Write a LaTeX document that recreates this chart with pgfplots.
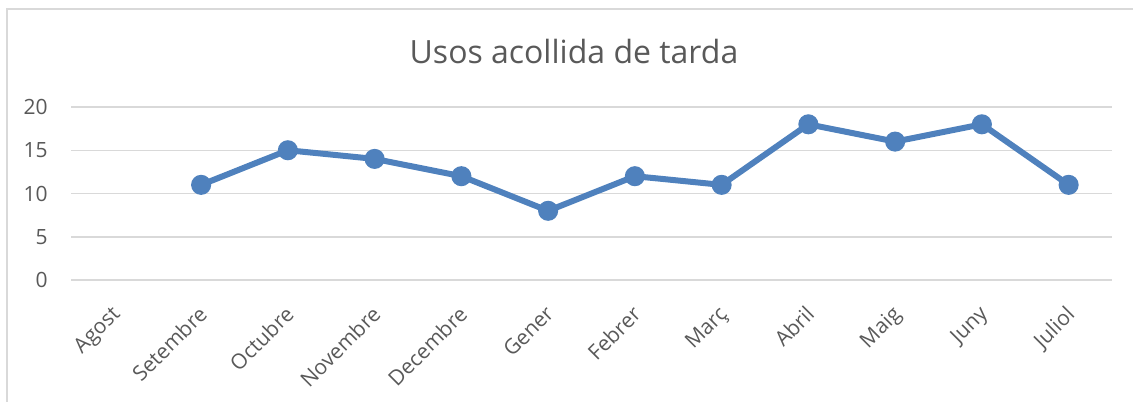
\documentclass[border=0pt]{standalone}
\usepackage{fontspec}
\setmainfont{Open Sans}
\usepackage{pgfplots}
\pgfplotsset{compat=1.18}
\definecolor{txt}{HTML}{595959}
\definecolor{grd}{HTML}{D9D9D9}
\definecolor{ser}{HTML}{4F81BD}
\begin{document}
\begin{tikzpicture}
\useasboundingbox (0,0) rectangle (566.5pt,-200.5pt);
\draw[grd, line width=0.75pt] (3.5pt,-4.5pt) rectangle (575pt,-215pt);
\node[txt, font=\fontsize{16}{19}\selectfont] at (287pt,-26pt) {Usos acollida de tarda};
\begin{axis}[
  at={(35.5pt,-140pt)}, anchor=south west,
  scale only axis, width=520.5pt, height=86.5pt,
  xmin=-0.5, xmax=11.5, ymin=0, ymax=20,
  xtick={0,...,11},
  xticklabels={Agost,Setembre,Octubre,Novembre,Decembre,Gener,Febrer,Març,Abril,Maig,Juny,Juliol},
  ytick={0,5,10,15,20},
  axis line style={draw=none},
  major tick length=0pt,
  ymajorgrids, grid style={grd, line width=0.75pt},
  tick label style={txt, font=\fontsize{10.5}{12}\selectfont},
  /pgf/number format/assume math mode=true,
  xticklabel style={xshift=-2pt, yshift=-12pt, rotate=45, anchor=north east, inner sep=0pt},
  yticklabel style={anchor=east, inner sep=0pt, xshift=-11.5pt},
  clip=false,
]
\addplot[ser, line width=3pt, mark=*, mark size=3.5pt, mark options={fill=ser, draw=ser}] coordinates {
 (1,11) (2,15) (3,14) (4,12) (5,8) (6,12) (7,11) (8,18) (9,16) (10,18) (11,11)
};
\end{axis}
\end{tikzpicture}
\end{document}
